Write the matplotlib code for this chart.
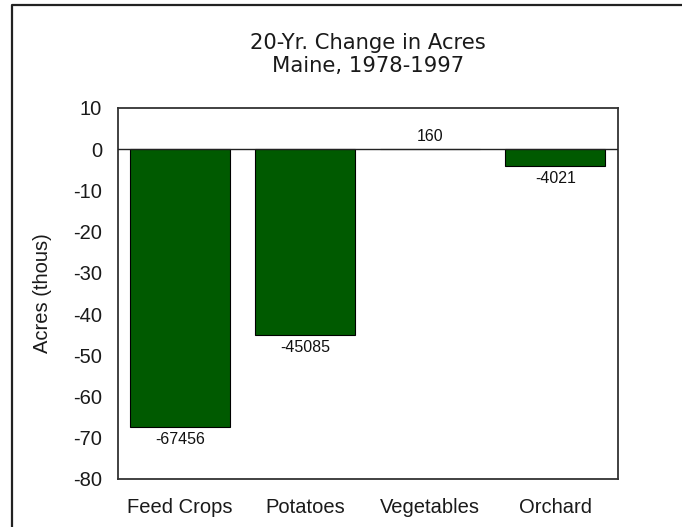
import matplotlib.pyplot as plt
from matplotlib.lines import Line2D

# change in acres, 1978-1997
categories = ["Feed Crops", "Potatoes", "Vegetables", "Orchard"]
acres_change = [-67456, -45085, 160, -4021]
y_ticks = [10, 0, -10, -20, -30, -40, -50, -60, -70, -80]

W, H = 682, 527
BAR_GREEN = "#005a00"

plt.rcParams["axes.unicode_minus"] = False


def main() -> None:
    fig = plt.figure(figsize=(W / 100, H / 100), dpi=100)
    fig.patch.set_facecolor("white")

    # plot area placed in pixel terms
    left, right, top, bottom = 117.5, 618, 108, 479
    ax = fig.add_axes([left / W, 1 - bottom / H, (right - left) / W, (bottom - top) / H])

    thousands = [v / 1000 for v in acres_change]
    x = list(range(len(categories)))
    bars = ax.bar(x, thousands, width=0.8, color=BAR_GREEN, edgecolor="black", linewidth=0.8, zorder=2)

    ax.set_xlim(-0.5, len(categories) - 0.5)
    ax.set_ylim(min(y_ticks), max(y_ticks))
    ax.set_yticks(y_ticks)
    ax.set_xticks(x)
    ax.set_xticklabels(categories)
    ax.tick_params(axis="both", length=0, labelsize=14.5)
    ax.tick_params(axis="y", pad=11)
    ax.tick_params(axis="x", pad=14)
    for lab in ax.get_xticklabels() + ax.get_yticklabels():
        lab.set_family("Liberation Sans")
        lab.set_color("#1a1a1a")

    ax.axhline(0, color="#222222", linewidth=1.0, zorder=3)
    for side in ax.spines.values():
        side.set_color("#333333")
        side.set_linewidth(1.3)

    # value labels: above positive bars, below negative ones
    for bar, raw in zip(bars, acres_change):
        h = bar.get_height()
        ax.annotate(
            f"{raw}",
            (bar.get_x() + bar.get_width() / 2, h),
            xytext=(0, 3 if raw > 0 else -3.5),
            textcoords="offset points",
            ha="center",
            va="bottom" if raw > 0 else "top",
            fontsize=11.5,
            family="Liberation Sans",
            color="#111111",
        )

    ax.set_ylabel("Acres (thous)", fontsize=14.5, family="Liberation Sans", color="#1a1a1a")
    ax.yaxis.set_label_coords((42 - left) / (right - left), 0.5)
    ax.yaxis.label.set_va("center")

    fig.text(
        (left + right) / 2 / W,
        1 - 54.5 / H,
        "20-Yr. Change in Acres\nMaine, 1978-1997",
        ha="center",
        va="center",
        fontsize=15.2,
        family="DejaVu Sans",
        color="#1a1a1a",
        linespacing=1.15,
    )

    # outer frame, only left and top edges fall inside the image
    fx, fy = 12 / W, 1 - 5 / H
    fig.add_artist(Line2D([fx, fx, 1.0], [0.0, fy, fy], transform=fig.transFigure, color="#222222", linewidth=1.6))

    fig.savefig("out.png", dpi=100, facecolor="white")
    plt.close(fig)


if __name__ == "__main__":
    main()
